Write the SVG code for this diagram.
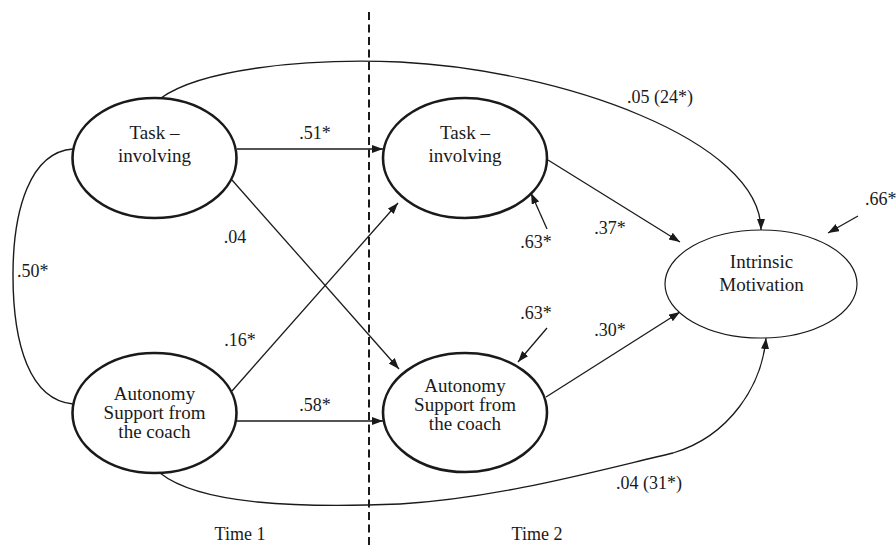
<svg xmlns="http://www.w3.org/2000/svg" width="896" height="545" viewBox="0 0 896 545">
<defs>
<marker id="ah" markerUnits="userSpaceOnUse" markerWidth="12" markerHeight="10" refX="11" refY="4" orient="auto">
<path d="M0,0 L11,4 L0,8 Z" fill="#1a1a1a"/>
</marker>
<style>
text{font-family:'Liberation Serif','Times New Roman','DejaVu Serif',Times,serif;fill:#1a1a1a;text-anchor:middle}
.t{font-size:19px}
.l{font-size:18px}
.n{fill:#fff;stroke:#1a1a1a;stroke-width:2.6}
.c{fill:none;stroke:#1a1a1a;stroke-width:1.4}
.a{fill:none;stroke:#1a1a1a;stroke-width:1.3;marker-end:url(#ah)}
</style>
</defs>
<rect width="896" height="545" fill="#fff"/>
<line x1="369" y1="12" x2="369" y2="545" stroke="#1a1a1a" stroke-width="2" stroke-dasharray="8,4.5"/>
<g id="connectors" font-family="Liberation Serif, DejaVu Serif, serif">
<path class="c" d="M73,149 C30,152 13,210 13,275 C13,345 30,400 73,404"/>
<path class="a" d="M161,98 C200,70 300,58 400,62 C560,70 761,140 761,230"/>
<path class="a" d="M160,473 C200,505 300,508 400,504 C500,498 600,470 673,453 C730,436 762,385 766,338"/>
<path class="a" d="M237,149 L383,149"/>
<path class="a" d="M236,421 L383,421"/>
<path class="a" d="M232,180 L399,369"/>
<path class="a" d="M232,391 L398,203"/>
<path class="a" d="M548,160 L680,242"/>
<path class="a" d="M546,397 L680,312"/>
<path class="a" d="M547,229 L531,193"/>
<path class="a" d="M547,328 L518,362"/>
<path class="a" d="M858,216 L828,233"/>
<text class="l" x="315" y="139">.51*</text>
<text class="l" x="315" y="411">.58*</text>
<text class="l" x="235" y="243">.04</text>
<text class="l" x="240" y="346">.16*</text>
<text class="l" x="17" y="277" style="text-anchor:start">.50*</text>
<text class="l" x="660" y="103">.05 (24*)</text>
<text class="l" x="649" y="489">.04 (31*)</text>
<text class="l" x="610" y="234">.37*</text>
<text class="l" x="610" y="336">.30*</text>
<text class="l" x="536" y="248">.63*</text>
<text class="l" x="536" y="319">.63*</text>
<text class="l" x="865" y="205" style="text-anchor:start">.66*</text>
</g>
<g id="task1">
<ellipse class="n" cx="154.5" cy="158" rx="82" ry="60"/>
<text class="t" x="154.5" y="138.5">Task –</text>
<text class="t" x="154.5" y="161.5">involving</text>
</g>
<g id="autonomy1">
<ellipse class="n" cx="154.5" cy="413" rx="82" ry="60"/>
<text class="t" x="154.5" y="400">Autonomy</text>
<text class="t" x="154.5" y="419">Support from</text>
<text class="t" x="154.5" y="438">the coach</text>
</g>
<g id="task2">
<ellipse class="n" cx="465" cy="158" rx="82" ry="60"/>
<text class="t" x="465" y="138.5">Task –</text>
<text class="t" x="465" y="161.5">involving</text>
</g>
<g id="autonomy2">
<ellipse class="n" cx="465" cy="412.5" rx="82" ry="59.5"/>
<text class="t" x="465" y="392">Autonomy</text>
<text class="t" x="465" y="411">Support from</text>
<text class="t" x="465" y="430">the coach</text>
</g>
<g id="intrinsic">
<ellipse cx="761" cy="284" rx="96" ry="54" fill="#fff" stroke="#1a1a1a" stroke-width="1.2"/>
<text class="t" x="761.5" y="268">Intrinsic</text>
<text class="t" x="761.5" y="291">Motivation</text>
</g>
<g id="time-labels">
<text class="l" x="240" y="540">Time 1</text>
<text class="l" x="537" y="540">Time 2</text>
</g>
</svg>
